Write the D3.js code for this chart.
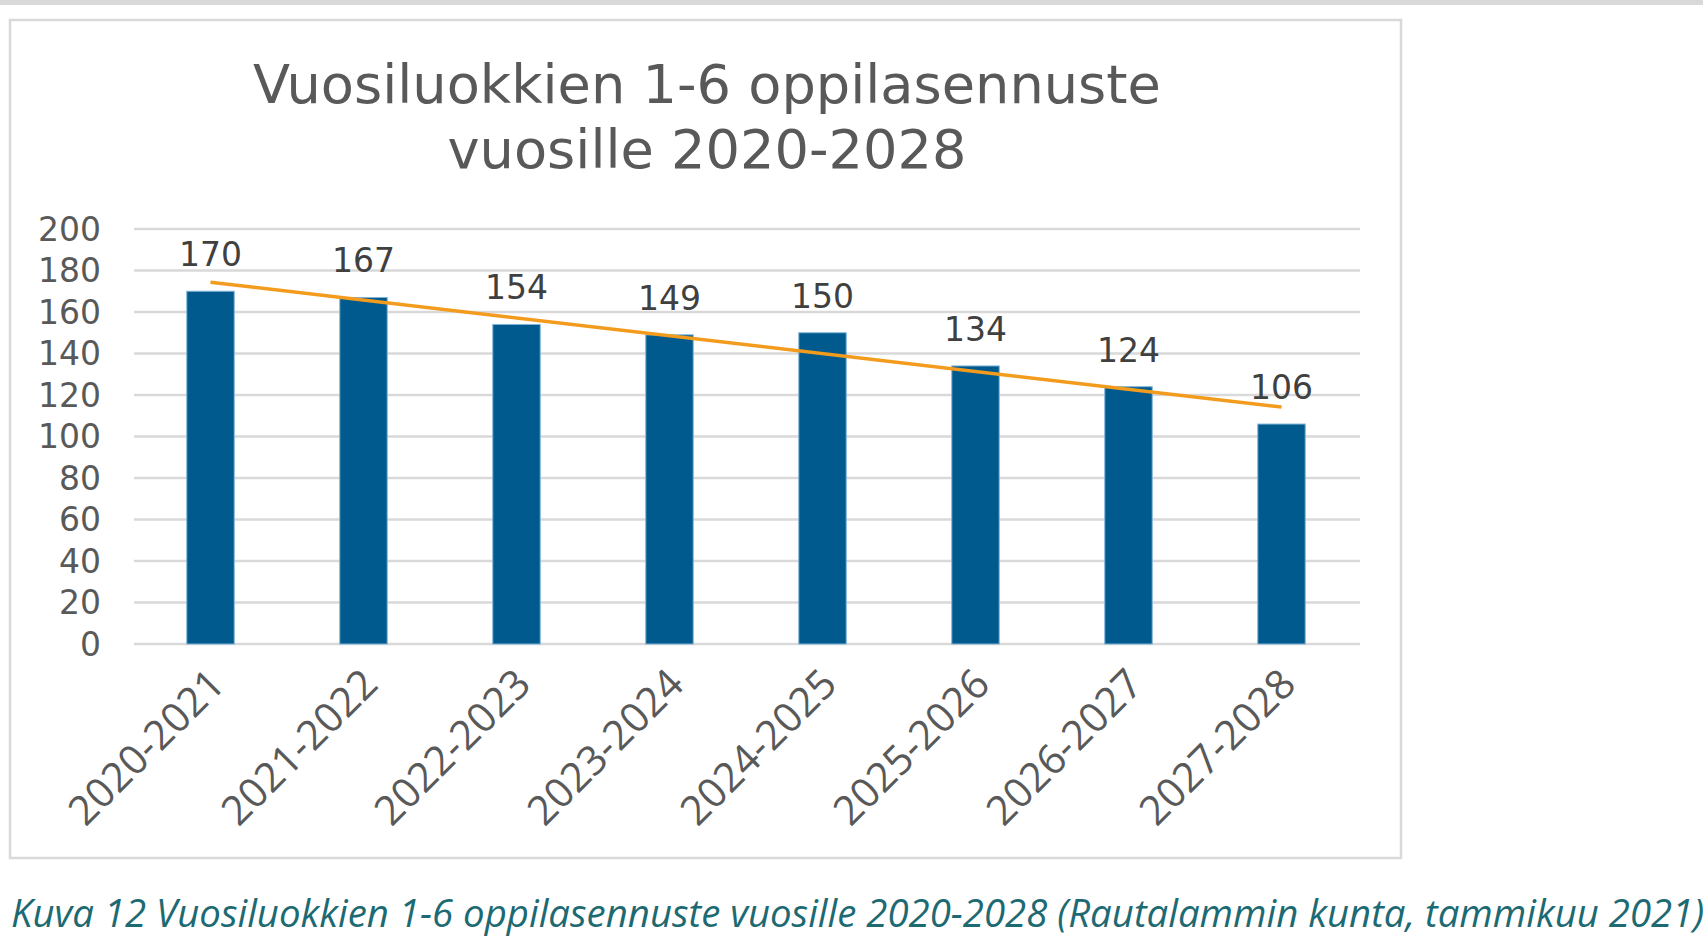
<!DOCTYPE html>
<html>
<head>
<meta charset="utf-8">
<script src="https://cdn.jsdelivr.net/npm/d3@7"></script>
<style>
  body { margin: 0; background: #fff; }
</style>
</head>
<body>
<svg id="chart" width="1703" height="952"></svg>
<script>
// data
const years = ["2020-2021", "2021-2022", "2022-2023", "2023-2024", "2024-2025", "2025-2026", "2026-2027", "2027-2028"];
const pupils = [170, 167, 154, 149, 150, 134, 124, 106];
const yTicks = [0, 20, 40, 60, 80, 100, 120, 140, 160, 180, 200];
const titleLines = ["Vuosiluokkien 1-6 oppilasennuste", "vuosille 2020-2028"];
const caption = "Kuva 12 Vuosiluokkien 1-6 oppilasennuste vuosille 2020-2028 (Rautalammin kunta, tammikuu 2021)";

const svg = d3.select("#chart");
const grey = "#595959";

// fit a text element to a width by changing its font size
function fit(sel, target) {
  const size = parseFloat(sel.attr("font-size"));
  const w = sel.node().getComputedTextLength();
  sel.attr("font-size", size * target / w);
}

// grey strip at the top and the chart frame
svg.append("rect").attr("x", 0).attr("y", 0).attr("width", 1703).attr("height", 5).attr("fill", "#d9d9d9");
svg.append("rect")
  .attr("x", 10).attr("y", 20).attr("width", 1391).attr("height", 838)
  .attr("fill", "#fff").attr("stroke", "#d9d9d9").attr("stroke-width", 2.5);

const x = d3.scaleBand()
  .domain(years)
  .range([134, 1358])
  .paddingInner(0.69)
  .paddingOuter(0.345);

const y = d3.scaleLinear().domain([0, 200]).range([644, 229]);

// gridlines
svg.append("g")
  .selectAll("line")
  .data(yTicks)
  .enter()
  .append("line")
  .attr("x1", 134).attr("x2", 1360)
  .attr("y1", d => y(d)).attr("y2", d => y(d))
  .attr("stroke", "#d9d9d9")
  .attr("stroke-width", 2.5);

// y axis labels
svg.append("g")
  .selectAll("text")
  .data(yTicks)
  .enter()
  .append("text")
  .attr("x", 101)
  .attr("y", d => y(d))
  .attr("dy", "0.36em")
  .attr("text-anchor", "end")
  .attr("font-family", "DejaVu Sans, Verdana, sans-serif")
  .attr("font-size", 33)
  .attr("fill", grey)
  .text(d => d);

// bars
svg.append("g")
  .selectAll("rect")
  .data(pupils)
  .enter()
  .append("rect")
  .attr("x", (d, i) => x(years[i]))
  .attr("y", d => y(d))
  .attr("width", x.bandwidth())
  .attr("height", d => y(0) - y(d))
  .attr("fill", "#005a8d")
  .attr("stroke", "#7fb4d8")
  .attr("stroke-width", 1);

// linear trendline (least squares, like the spreadsheet one)
const n = pupils.length;
const mx = d3.mean(pupils, (d, i) => i);
const my = d3.mean(pupils);
const slope = d3.sum(pupils, (d, i) => (i - mx) * (d - my)) / d3.sum(pupils, (d, i) => (i - mx) * (i - mx));
const icpt = my - slope * mx;
const cx = i => x(years[i]) + x.bandwidth() / 2;

svg.append("line")
  .attr("x1", cx(0)).attr("y1", y(icpt))
  .attr("x2", cx(n - 1)).attr("y2", y(icpt + slope * (n - 1)))
  .attr("stroke", "#f29b1d")
  .attr("stroke-width", 3.5);

// value labels
svg.append("g")
  .selectAll("text")
  .data(pupils)
  .enter()
  .append("text")
  .attr("x", (d, i) => cx(i))
  .attr("y", d => y(d) - 25)
  .attr("text-anchor", "middle")
  .attr("font-family", "DejaVu Sans, Verdana, sans-serif")
  .attr("font-size", 33)
  .attr("fill", "#404040")
  .text(d => d);

// x axis labels, rotated
const xl = svg.append("g")
  .selectAll("text")
  .data(years)
  .enter()
  .append("text")
  .attr("transform", (d, i) => "translate(" + (cx(i) + 6) + ",676) rotate(-45)")
  .attr("dy", "0.36em")
  .attr("text-anchor", "end")
  .attr("font-family", "Open Sans, Noto Sans, sans-serif")
  .attr("font-size", 40)
  .attr("fill", grey)
  .text(d => d);
xl.each(function() { fit(d3.select(this), 200); });

// title
const t1 = svg.append("text")
  .attr("x", 707).attr("y", 103)
  .attr("text-anchor", "middle")
  .attr("font-family", "DejaVu Sans, Verdana, sans-serif")
  .attr("font-size", 50)
  .attr("fill", grey)
  .text(titleLines[0]);
fit(t1, 908);
svg.append("text")
  .attr("x", 707).attr("y", 168)
  .attr("text-anchor", "middle")
  .attr("font-family", "DejaVu Sans, Verdana, sans-serif")
  .attr("font-size", t1.attr("font-size"))
  .attr("fill", grey)
  .text(titleLines[1]);

// caption
const cap = svg.append("text")
  .attr("x", 11).attr("y", 927)
  .attr("font-family", "Open Sans, Noto Sans, sans-serif")
  .attr("font-style", "italic")
  .attr("font-size", 36)
  .attr("fill", "#1d6a73")
  .text(caption);
fit(cap, 1694);
</script>
</body>
</html>
